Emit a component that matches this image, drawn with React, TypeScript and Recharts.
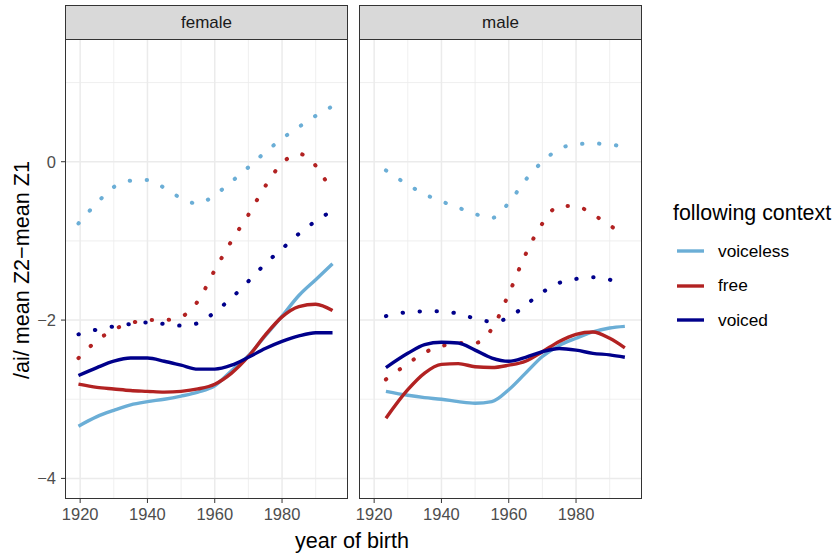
import { LineChart, Line, XAxis, YAxis, CartesianGrid } from "recharts";

// years sampled along the smoothed curves
const femaleYears = [1919.5, 1925, 1930, 1935, 1940, 1945, 1950, 1955, 1960, 1965, 1970, 1975, 1980, 1985, 1990, 1995];
const maleYears = [1923.5, 1930, 1935, 1940, 1945, 1950, 1955, 1960, 1965, 1970, 1975, 1980, 1985, 1990, 1994.5];

// solid curves
const femaleVoiceless = [-3.34, -3.22, -3.14, -3.07, -3.03, -3.0, -2.96, -2.91, -2.83, -2.64, -2.45, -2.2, -1.95, -1.69, -1.49, -1.29];
const femaleFree = [-2.81, -2.85, -2.87, -2.89, -2.9, -2.91, -2.9, -2.87, -2.81, -2.67, -2.46, -2.19, -1.96, -1.83, -1.8, -1.88];
const femaleVoiced = [-2.7, -2.6, -2.52, -2.48, -2.48, -2.52, -2.57, -2.62, -2.62, -2.57, -2.47, -2.36, -2.27, -2.2, -2.16, -2.16];
const maleVoiceless = [-2.9, -2.95, -2.98, -3.0, -3.03, -3.05, -3.03, -2.88, -2.67, -2.46, -2.32, -2.23, -2.15, -2.1, -2.08];
const maleFree = [-3.24, -2.88, -2.67, -2.56, -2.55, -2.59, -2.6, -2.57, -2.52, -2.4, -2.27, -2.18, -2.15, -2.23, -2.35];
const maleVoiced = [-2.6, -2.42, -2.31, -2.28, -2.29, -2.38, -2.48, -2.52, -2.47, -2.4, -2.36, -2.38, -2.42, -2.44, -2.47];

// dotted curves
const femaleVoicelessDot = [-0.78, -0.52, -0.32, -0.24, -0.23, -0.33, -0.46, -0.53, -0.42, -0.25, -0.07, 0.12, 0.29, 0.44, 0.58, 0.7];
const femaleFreeDot = [-2.48, -2.26, -2.12, -2.04, -2.0, -2.0, -1.96, -1.76, -1.37, -1.0, -0.67, -0.31, -0.02, 0.1, -0.05, -0.4];
const femaleVoicedDot = [-2.18, -2.12, -2.08, -2.05, -2.03, -2.05, -2.07, -2.04, -1.9, -1.72, -1.51, -1.29, -1.1, -0.91, -0.75, -0.62];
const maleVoicelessDot = [-0.11, -0.29, -0.41, -0.5, -0.58, -0.66, -0.71, -0.52, -0.23, 0.0, 0.16, 0.22, 0.23, 0.22, 0.18];
const maleFreeDot = [-2.75, -2.55, -2.41, -2.33, -2.29, -2.29, -2.11, -1.67, -1.17, -0.78, -0.56, -0.56, -0.67, -0.8, -0.96];
const maleVoicedDot = [-1.95, -1.9, -1.89, -1.89, -1.92, -1.98, -2.02, -1.97, -1.81, -1.65, -1.53, -1.48, -1.46, -1.49, -1.55];

const contexts = ["voiceless", "free", "voiced"];
const colors: Record<string, string> = { voiceless: "#6BAED6", free: "#B22222", voiced: "#00008B" };

const xTicks = [1920, 1940, 1960, 1980];
const xMinor = [1930, 1950, 1970, 1990];
const yTicks = [-4, -2, 0];
const yMinor = [-3, -1, 1];
const X_DOMAIN = [1915.5, 1999.6];
const Y_DOMAIN = [-4.26, 1.55];

function rows(years: number[], s: number[][]) {
  return years.map((year, i) => ({
    year,
    voiceless: s[0][i], free: s[1][i], voiced: s[2][i],
    voicelessDot: s[3][i], freeDot: s[4][i], voicedDot: s[5][i],
  }));
}

const femaleRows = rows(femaleYears, [femaleVoiceless, femaleFree, femaleVoiced, femaleVoicelessDot, femaleFreeDot, femaleVoicedDot]);
const maleRows = rows(maleYears, [maleVoiceless, maleFree, maleVoiced, maleVoicelessDot, maleFreeDot, maleVoicedDot]);

const PLOT_W = 283;
const PLOT_H = 460;
const TOP = 39;
const MALE_PAD = 24; // room for the first tick label of the right panel

const fmtY = (v: number) => (v < 0 ? `\u2212${Math.abs(v)}` : String(v));

function Panel({ data, showY }: { data: any[]; showY: boolean }) {
  const left = showY ? 0 : MALE_PAD;
  return (
    <LineChart width={showY ? PLOT_W + 65 : PLOT_W + MALE_PAD + 10} height={PLOT_H + 30} data={data}
      margin={{ top: 0, right: showY ? 0 : 10, bottom: 0, left }}>
      <CartesianGrid stroke="#EBEBEB" strokeWidth={0.8} verticalValues={xMinor} horizontalValues={yMinor} />
      <CartesianGrid stroke="#EBEBEB" strokeWidth={1.5} verticalValues={xTicks} horizontalValues={yTicks} />
      <XAxis
        type="number" dataKey="year" domain={X_DOMAIN} ticks={xTicks} allowDataOverflow interval={0}
        height={30} axisLine={false} tickLine={{ stroke: "#333333" }} tickSize={4} tickMargin={5}
        tick={{ fill: "#4D4D4D", fontSize: 16.5 }}
      />
      <YAxis
        type="number" domain={Y_DOMAIN} ticks={yTicks} allowDataOverflow interval={0} hide={!showY}
        width={65} axisLine={false} tickLine={{ stroke: "#333333" }} tickSize={4} tickMargin={5}
        tick={{ fill: "#4D4D4D", fontSize: 16.5 }} tickFormatter={fmtY}
      />
      {contexts.map(c => (
        <Line key={c + "Dot"} dataKey={c + "Dot"} type="monotone" stroke={colors[c]} strokeWidth={4}
          strokeLinecap="round" strokeDasharray="0.4 16.6" dot={false} activeDot={false} isAnimationActive={false} />
      ))}
      {contexts.map(c => (
        <Line key={c} dataKey={c} type="monotone" stroke={colors[c]} strokeWidth={3.4}
          dot={false} activeDot={false} isAnimationActive={false} />
      ))}
    </LineChart>
  );
}

const boxStyle = { position: "absolute" as const, boxSizing: "border-box" as const, border: "1.2px solid #333333" };

export default function App() {
  const panels = [
    { label: "female", left: 65 },
    { label: "male", left: 359 },
  ];
  return (
    <div style={{ position: "absolute", left: 0, top: 0, width: 838, height: 556, background: "#fff",
      fontFamily: '"Liberation Sans", Arial, sans-serif' }}>
      <div style={{ position: "absolute", left: 0, top: TOP }}>
        <Panel data={femaleRows} showY />
      </div>
      <div style={{ position: "absolute", left: 359 - MALE_PAD, top: TOP }}>
        <Panel data={maleRows} showY={false} />
      </div>

      {panels.map(p => (
        <div key={p.label}>
          <div style={{ ...boxStyle, left: p.left, top: TOP, width: PLOT_W, height: PLOT_H }} />
          <div style={{ ...boxStyle, left: p.left, top: 5, width: PLOT_W, height: 35, background: "#D9D9D9",
            display: "flex", alignItems: "center", justifyContent: "center", fontSize: 17, color: "#1A1A1A" }}>
            {p.label}
          </div>
        </div>
      ))}

      {/* axis titles */}
      <div style={{ position: "absolute", left: 22, top: 270, transform: "translate(-50%, -50%) rotate(-90deg)",
        whiteSpace: "nowrap", fontSize: 21.6, color: "#000" }}>
        /ai/ mean Z2{"\u2212"}mean Z1
      </div>
      <div style={{ position: "absolute", left: 352, top: 541, transform: "translate(-50%, -50%)",
        whiteSpace: "nowrap", fontSize: 21.6, color: "#000" }}>
        year of birth
      </div>

      {/* legend */}
      <div style={{ position: "absolute", left: 673, top: 201, fontSize: 21.4, color: "#000", whiteSpace: "nowrap" }}>
        following context
      </div>
      {contexts.map((c, i) => (
        <div key={c} style={{ position: "absolute", left: 677, top: 240 + i * 34.5, height: 22, display: "flex", alignItems: "center" }}>
          <svg width={27} height={22}>
            <line x1={0} x2={27} y1={11} y2={11} stroke={colors[c]} strokeWidth={3.4} />
          </svg>
          <span style={{ marginLeft: 14, fontSize: 17.3, color: "#000" }}>{c}</span>
        </div>
      ))}
    </div>
  );
}
